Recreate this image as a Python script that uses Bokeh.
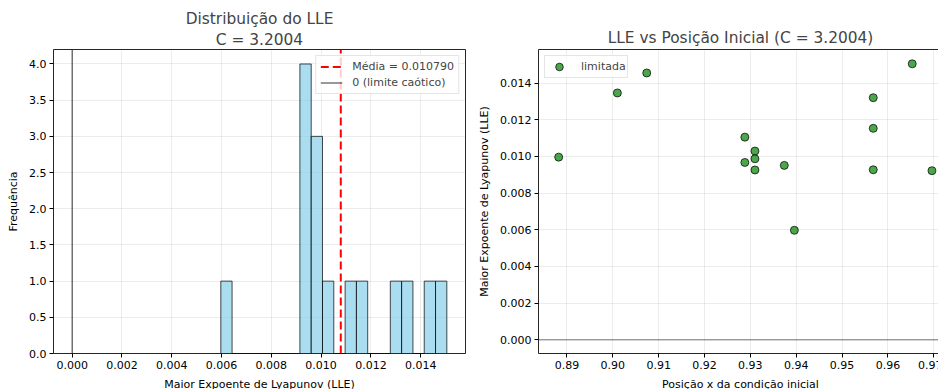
import numpy as np
from bokeh.plotting import figure
from bokeh.layouts import row
from bokeh.models import Range1d, FixedTicker, PrintfTickFormatter, Span, Title, Legend, LegendItem
from bokeh.embed import file_html
from bokeh.resources import INLINE

# ---- data ----
x_init = [0.8882, 0.9010, 0.9074, 0.9288, 0.9310, 0.9310, 0.9288, 0.9310,
          0.9374, 0.9396, 0.9568, 0.9568, 0.9568, 0.9653, 0.9696]
lle = [0.00996, 0.01346, 0.01455, 0.01105, 0.01029, 0.00987, 0.00967, 0.00926,
       0.00951, 0.00597, 0.01320, 0.01153, 0.00927, 0.01505, 0.00922]
n_bins = 20
lle_mean = 0.010790
chaos_limit = 0.0
c_value = "3.2004"
hist_x_ticks = [0.000, 0.002, 0.004, 0.006, 0.008, 0.010, 0.012, 0.014]
hist_y_ticks = [0.0, 0.5, 1.0, 1.5, 2.0, 2.5, 3.0, 3.5, 4.0]
sc_x_ticks = [0.89, 0.90, 0.91, 0.92, 0.93, 0.94, 0.95, 0.96, 0.97]
sc_y_ticks = [0.000, 0.002, 0.004, 0.006, 0.008, 0.010, 0.012, 0.014]

# axis limits
hist_x_lim = (-0.00075, 0.0158)
hist_y_lim = (0.0, 4.2)
sc_x_lim = (0.8838, 0.9719)
sc_y_lim = (-0.00075, 0.01583)

FONT = "DejaVu Sans"
counts, edges = np.histogram(np.array(lle), bins=n_bins)


def style(p):
    p.outline_line_color = "black"
    p.outline_line_width = 1
    p.outline_line_alpha = 0.85
    p.background_fill_color = "white"
    p.border_fill_color = "white"
    for ax in p.axis:
        ax.axis_line_color = None
        ax.major_tick_in = 0
        ax.major_tick_out = 4
        ax.major_tick_line_color = "black"
        ax.minor_tick_line_color = None
        ax.major_label_text_font = FONT
        ax.major_label_text_font_size = "11px"
        ax.major_label_text_color = "black"
        ax.major_label_standoff = 3
        ax.axis_label_text_font = FONT
        ax.axis_label_text_font_size = "11px"
        ax.axis_label_text_font_style = "normal"
        ax.axis_label_text_color = "black"
        ax.axis_label_standoff = 6
    for g in p.grid:
        g.grid_line_color = "#b0b0b0"
        g.grid_line_alpha = 0.3
        g.grid_line_width = 0.8
    p.title.text_font = FONT
    p.title.text_font_size = "15.4px"
    p.title.text_font_style = "normal"
    p.title.align = "center"


# ---- left: histogram ----
p1 = figure(title="Distribuição do LLE", output_backend="svg", toolbar_location=None,
            frame_width=412, frame_height=304,
            min_border_left=53, min_border_right=10, min_border_top=49, min_border_bottom=34,
            x_range=Range1d(*hist_x_lim), y_range=Range1d(*hist_y_lim))
p1.quad(left=edges[:-1], right=edges[1:], bottom=0, top=counts,
        fill_color="skyblue", fill_alpha=0.7, line_color="black", line_alpha=0.7, line_width=1)
r_mean = p1.line(x=[lle_mean, lle_mean], y=list(hist_y_lim), line_color="red",
                 line_dash="8 4", line_width=2)
r_zero = p1.line(x=[chaos_limit, chaos_limit], y=list(hist_y_lim), line_color="black",
                 line_width=1, line_alpha=0.8)
leg1 = Legend(items=[LegendItem(label=f"Média = {lle_mean:.6f}", renderers=[r_mean]),
                     LegendItem(label="0 (limite caótico)", renderers=[r_zero])])
p1.add_layout(leg1)
p1.xaxis.axis_label = "Maior Expoente de Lyapunov (LLE)"
p1.yaxis.axis_label = "Frequência"
p1.xaxis.ticker = FixedTicker(ticks=hist_x_ticks)
p1.xaxis.formatter = PrintfTickFormatter(format="%.3f")
p1.yaxis.ticker = FixedTicker(ticks=hist_y_ticks)
p1.yaxis.formatter = PrintfTickFormatter(format="%.1f")
style(p1)
p1.title.standoff = 0
p1.add_layout(Title(text=f"C = {c_value}", align="center", text_font=FONT,
                    text_font_size="15.4px", text_font_style="normal", standoff=2), "above")

# ---- right: scatter ----
p2 = figure(title=f"LLE vs Posição Inicial (C = {c_value})", output_backend="svg",
            toolbar_location=None, frame_width=404, frame_height=304,
            min_border_left=59, min_border_right=0, min_border_top=49, min_border_bottom=34,
            x_range=Range1d(*sc_x_lim), y_range=Range1d(*sc_y_lim))
p2.add_layout(Span(location=chaos_limit, dimension="width", line_color="black",
                   line_alpha=0.35, line_width=1.5))
p2.scatter(x_init, lle, size=8, fill_color="green", fill_alpha=0.7,
           line_color="black", line_alpha=0.7, line_width=1, legend_label="limitada")
p2.xaxis.axis_label = "Posição x da condição inicial"
p2.yaxis.axis_label = "Maior Expoente de Lyapunov (LLE)"
p2.xaxis.ticker = FixedTicker(ticks=sc_x_ticks)
p2.xaxis.formatter = PrintfTickFormatter(format="%.2f")
p2.yaxis.ticker = FixedTicker(ticks=sc_y_ticks)
p2.yaxis.formatter = PrintfTickFormatter(format="%.3f")
style(p2)
p2.title.standoff = 5

for p, loc in ((p1, "top_right"), (p2, "top_left")):
    lg = p.legend[0]
    lg.location = loc
    lg.margin = 6
    lg.label_text_font = FONT
    lg.label_text_font_size = "11px"
    lg.border_line_color = "#cccccc"
    lg.border_line_width = 1
    lg.background_fill_alpha = 0.8

l1 = p1.legend[0]
l1.padding = 4
l1.spacing = 3
l1.glyph_width = 22
l1.glyph_height = 13
l1.label_height = 13
l1.label_standoff = 10

l2 = p2.legend[0]
l2.padding = 1
l2.spacing = 0
l2.glyph_width = 26
l2.glyph_height = 19
l2.label_height = 19
l2.label_standoff = 9

layout = row(p1, p2)
open("out.html", "w").write(file_html(layout, INLINE))
